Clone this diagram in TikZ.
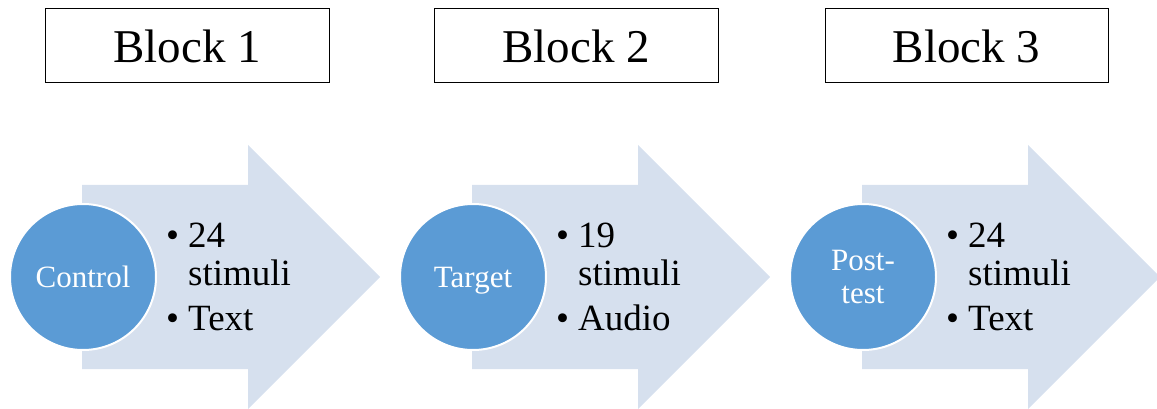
\documentclass[tikz,border=0pt]{standalone}
\usepackage{fontspec}
\setmainfont{Liberation Serif}
\definecolor{arrowfill}{RGB}{214,224,238}
\definecolor{circfill}{RGB}{91,155,213}
\begin{document}
\begin{tikzpicture}[x=1pt,y=-1pt,
  blockbox/.style={draw=black,line width=0.9pt,fill=white},
  blocktext/.style={anchor=base,inner sep=0pt,font=\fontsize{47}{50}\selectfont},
  bigarrow/.style={fill=arrowfill,draw=none},
  phase/.style={circle,fill=circfill,draw=white,line width=2pt,minimum size=146pt,inner sep=0pt},
  phasetext/.style={anchor=base,inner sep=0pt,text=white,font=\fontsize{31}{34}\selectfont},
  itemtext/.style={anchor=base west,inner sep=0pt,font=\fontsize{37}{40}\selectfont}]
\useasboundingbox (0,0) rectangle (1157,409);
% top boxes
\foreach \i/\l/\r in {1/45/329,2/434/718,3/825/1108}{
  \draw[blockbox] (\l,8) rectangle (\r,82);
  \node[blocktext] (blk\i) at ({(\l+\r)/2},63) {Block \i};
}
% arrows
\foreach \i/\b in {1/82,2/472,3/862}{
  \fill[bigarrow] (\b,185) -- ({\b+166},185) -- ({\b+166},145) -- ({\b+298},277) -- ({\b+166},409) -- ({\b+166},369) -- (\b,369) -- cycle;
}
% circles
\node[phase] (c1) at (83,277) {};
\node[phase] (c2) at (473,277) {};
\node[phase] (c3) at (863,277) {};
\node[phasetext] (c1t) at (83,287) {Control};
\node[phasetext] (c2t) at (473,287) {Target};
\node[phasetext] (c3a) at (863,270) {Post-};
\node[phasetext] (c3b) at (863,303) {test};
% items
\foreach \i/\x/\n/\m in {1/166/24/Text,2/556/19/Audio,3/946/24/Text}{
  \node[itemtext] (b\i a) at (\x,247) {•};
  \node[itemtext] (t\i a) at ({\x+22},247) {\n};
  \node[itemtext] (t\i b) at ({\x+22},285) {stimuli};
  \node[itemtext] (b\i c) at (\x,330) {•};
  \node[itemtext] (t\i c) at ({\x+22},330) {\m};
}
\end{tikzpicture}
\end{document}
